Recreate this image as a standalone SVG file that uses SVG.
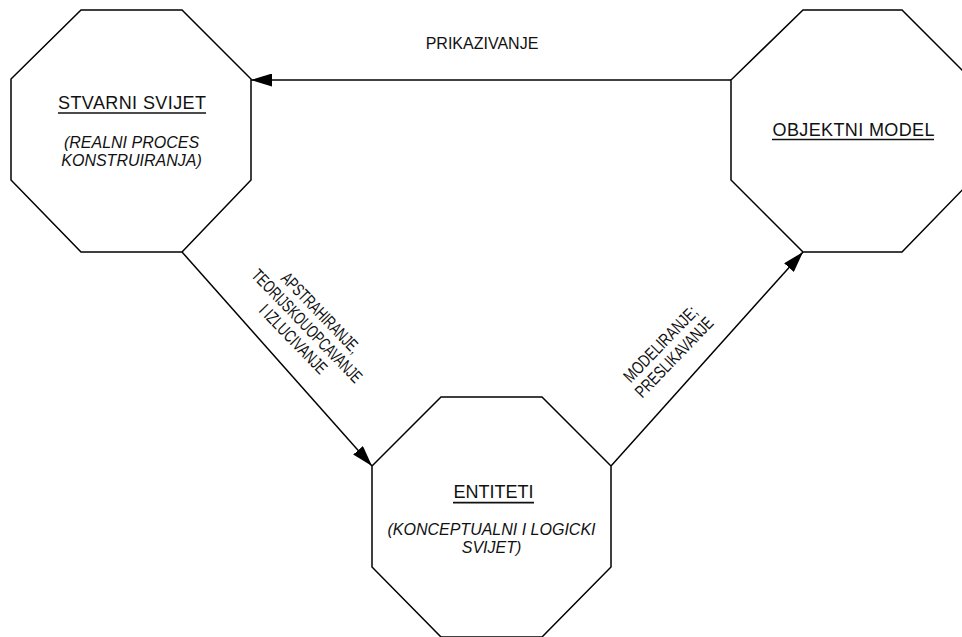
<svg xmlns="http://www.w3.org/2000/svg" width="962" height="637" viewBox="0 0 962 637">
<style>
.oct{fill:#fff;stroke:#000;stroke-width:1.5;stroke-linejoin:miter}
.con{fill:none;stroke:#000;stroke-width:1.5}
.ul{stroke:#111;stroke-width:1.6}
text{font-family:"Liberation Sans",Arial,sans-serif;fill:#111}
.t{font-size:18px;text-anchor:middle}
.s{font-size:16px;font-style:italic;text-anchor:middle}
.l{font-size:16px;text-anchor:middle}
.r{font-size:17.5px;text-anchor:middle}
</style>
<defs>
<marker id="ah" markerUnits="userSpaceOnUse" viewBox="0 -6.5 21 13" refX="21" refY="0" markerWidth="21" markerHeight="13" orient="auto">
<path d="M0,-6.5 L21,0 L0,6.5 z" fill="#000"/>
</marker>
</defs>
<rect width="962" height="637" fill="#fff"/>
<g id="connectors">
<line class="con" x1="731" y1="80" x2="251" y2="80" marker-end="url(#ah)"/>
<line class="con" x1="182" y1="252" x2="372" y2="466" marker-end="url(#ah)"/>
<line class="con" x1="611" y1="466" x2="803" y2="252" marker-end="url(#ah)"/>
<text class="l" x="482" y="48.5">PRIKAZIVANJE</text>
<g transform="translate(302.7,330.1) rotate(46)">
<text class="r" x="0" y="-19" textLength="105" lengthAdjust="spacingAndGlyphs">APSTRAHIRANJE,</text>
<text class="r" x="0" y="0" textLength="150" lengthAdjust="spacingAndGlyphs">TEORIJSKOUOPCAVANJE</text>
<text class="r" x="0" y="19" textLength="89" lengthAdjust="spacingAndGlyphs">I IZLUCIVANJE</text>
</g>
<g transform="translate(664.8,348.2) rotate(-46)">
<text class="r" x="0" y="0" textLength="98" lengthAdjust="spacingAndGlyphs">MODELIRANJE;</text>
<text class="r" x="0" y="19" textLength="104" lengthAdjust="spacingAndGlyphs">PRESLIKAVANJE</text>
</g>
</g>
<g id="stvarni-svijet">
<polygon class="oct" points="81,10 182,10 251,79 251,180 182,252 81,252 11,180 11,79"/>
<text class="t" x="132" y="108.5" textLength="148" lengthAdjust="spacing">STVARNI SVIJET</text>
<line class="ul" x1="58" y1="113" x2="206" y2="113"/>
<text class="s" x="131.5" y="147.5">(REALNI PROCES</text>
<text class="s" x="131.5" y="165.5">KONSTRUIRANJA)</text>
</g>
<g id="objektni-model">
<polygon class="oct" points="803,10 902,10 972,80 972,180 902,252 803,252 731,180 731,80"/>
<text class="t" x="853.5" y="136" textLength="162" lengthAdjust="spacing">OBJEKTNI MODEL</text>
<line class="ul" x1="772" y1="139.5" x2="934" y2="139.5"/>
</g>
<g id="entiteti">
<polygon class="oct" points="441,397 542,397 611,466 611,567 542,637 441,637 372,567 372,466"/>
<text class="t" x="493.5" y="498.3">ENTITETI</text>
<line class="ul" x1="453" y1="502.6" x2="534" y2="502.6"/>
<text class="s" x="491.5" y="534.5">(KONCEPTUALNI I LOGICKI</text>
<text class="s" x="491.5" y="552.5">SVIJET)</text>
</g>
</svg>
